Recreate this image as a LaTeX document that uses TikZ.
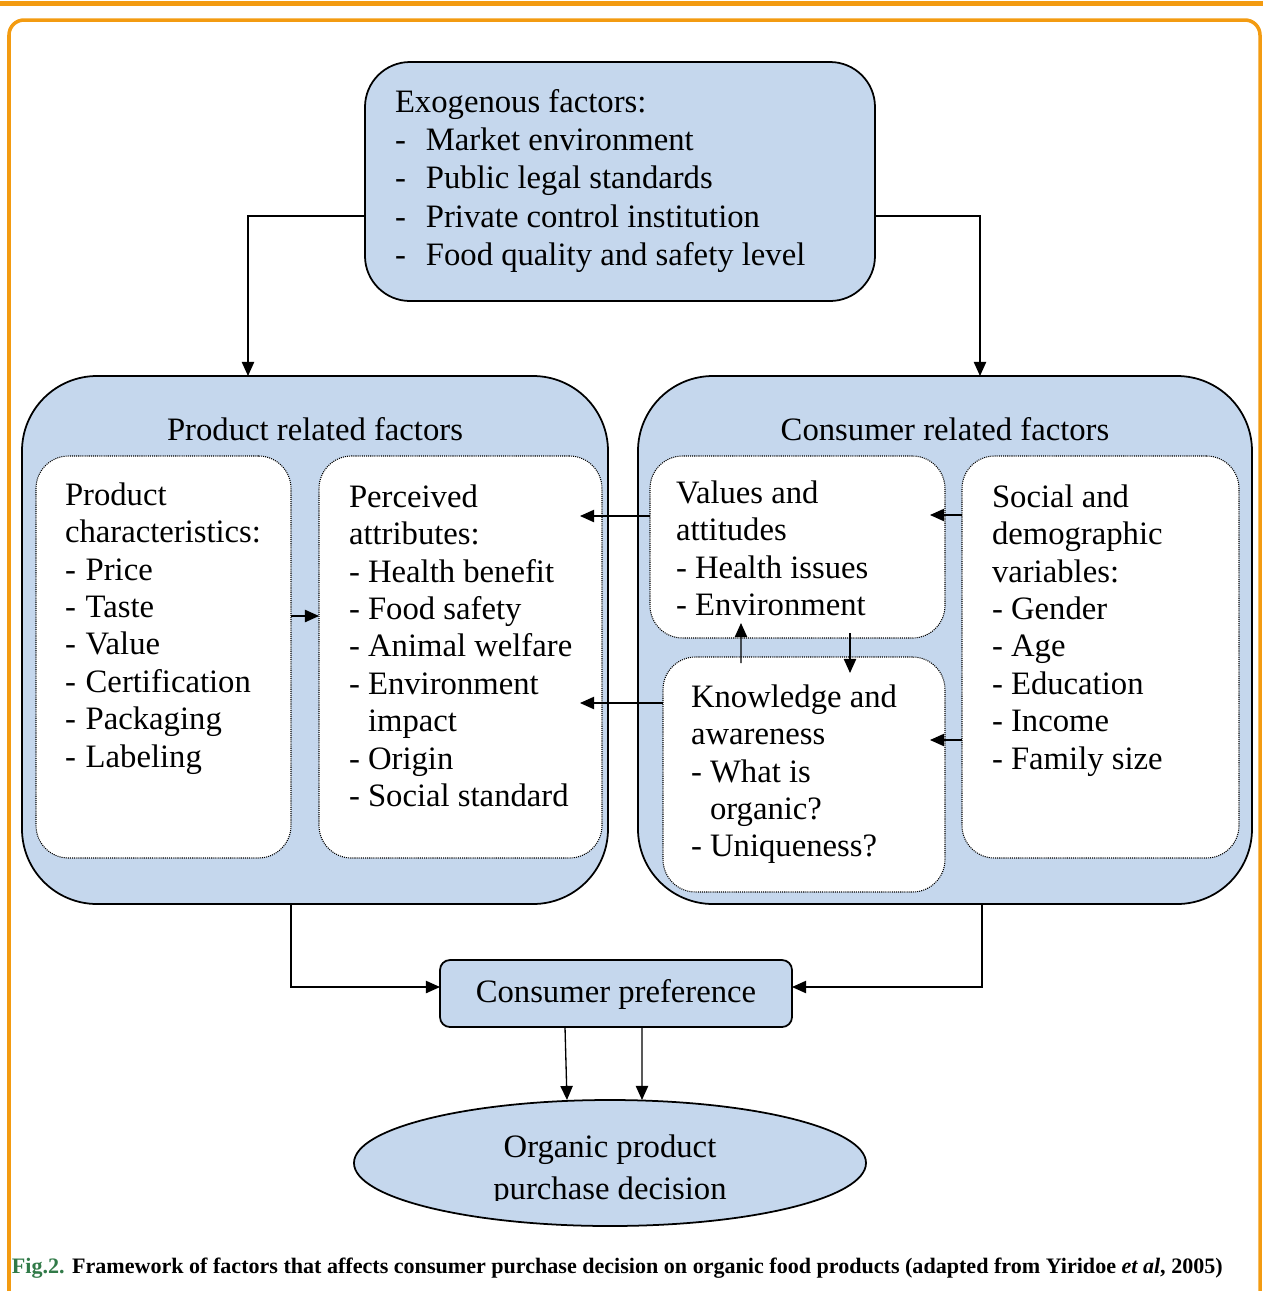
\documentclass[tikz,border=0pt]{standalone}
\usepackage{graphicx}
\usepackage{fontspec}
\setmainfont{Liberation Serif}
\usetikzlibrary{arrows.meta,calc,shapes.geometric}
\definecolor{frameorange}{RGB}{243,155,17}
\definecolor{boxblue}{RGB}{197,215,237}
\definecolor{figgreen}{RGB}{49,122,72}
\begin{document}
\begin{tikzpicture}[
  every node/.style={inner sep=0pt, outer sep=0pt},
  bigbox/.style={draw=black, line width=1pt, fill=boxblue, rounded corners=1.5cm},
  inbox/.style={draw=black, line width=0.6pt, dash pattern=on 0.6pt off 0.6pt, fill=white, rounded corners=0.65cm},
  txt/.style={anchor=north west, align=left, font=\fontsize{18.6pt}{21.3pt}\selectfont},
  ttl/.style={anchor=base, font=\fontsize{18.6pt}{21.3pt}\selectfont},
  conn/.style={line width=0.75pt, -{Triangle[length=8pt,width=7pt]}},
]
\useasboundingbox (0,0) rectangle (25.26,-25.82);
% page frame
\fill[frameorange] (0,-0.02) rectangle (25.26,-0.12);
\draw[frameorange, line width=2pt, rounded corners=0.3cm] (0.18,-25.95) -- (0.18,-0.40) -- (25.2,-0.40) -- (25.2,-25.95);

% boxes
\node[bigbox, rounded corners=0.9cm, minimum width=10.2cm, minimum height=4.78cm] (exo) at (12.4,-3.63) {};
\node[bigbox, minimum width=11.72cm, minimum height=10.56cm] (prod) at (6.3,-12.8) {};
\node[bigbox, minimum width=12.28cm, minimum height=10.56cm] (cons) at (18.9,-12.8) {};
\node[inbox, minimum width=5.1cm, minimum height=8.04cm] (pchar) at (3.27,-13.14) {};
\node[inbox, minimum width=5.66cm, minimum height=8.04cm] (perc) at (9.21,-13.14) {};
\node[inbox, minimum width=5.9cm, minimum height=3.64cm] (val) at (15.95,-10.94) {};
\node[inbox, minimum width=5.64cm, minimum height=4.7cm] (know) at (16.08,-15.49) {};
\node[inbox, minimum width=5.54cm, minimum height=8.04cm] (soc) at (22.01,-13.14) {};
\node[bigbox, rounded corners=0.2cm, minimum width=7.04cm, minimum height=1.34cm] (pref) at (12.32,-19.87) {};
\node[ellipse, draw=black, line width=1pt, fill=boxblue, minimum width=10.24cm, minimum height=2.52cm] (dec) at (12.2,-23.26) {};

% texts
\node[txt, font=\fontsize{18.6pt}{21.7pt}\selectfont] (exotxt) at (7.9,-1.72) {\strut Exogenous factors:\\
\makebox[17.6pt][l]{-}Market environment\\
\makebox[17.6pt][l]{-}Public legal standards\\
\makebox[17.6pt][l]{-}Private control institution\\
\makebox[17.6pt][l]{-}Food quality and safety level};
\node[ttl] (ptitle) at (6.3,-8.8) {Product related factors};
\node[ttl] (ctitle) at (18.9,-8.8) {Consumer related factors};
\node[txt] (pchartxt) at (1.3,-9.58) {\strut Product\\characteristics:\\-\hspace{0.3em}Price\\-\hspace{0.3em}Taste\\-\hspace{0.3em}Value\\-\hspace{0.3em}Certification\\-\hspace{0.3em}Packaging\\-\hspace{0.3em}Labeling};
\node[txt] (perctxt) at (6.98,-9.62) {\strut Perceived\\attributes:\\- Health benefit\\- Food safety\\- Animal welfare\\- Environment\\\hphantom{- }impact\\- Origin\\- Social standard};
\node[txt] (valtxt) at (13.52,-9.54) {\strut Values and\\attitudes\\- Health issues\\- Environment};
\node[txt] (knowtxt) at (13.82,-13.62) {\strut Knowledge and\\awareness\\- What is\\\hphantom{- }organic?\\- Uniqueness?};
\node[txt] (soctxt) at (19.84,-9.62) {\strut Social and\\demographic\\variables:\\- Gender\\- Age\\- Education\\- Income\\- Family size};
\node[ttl] (preftxt) at (12.32,-20.04) {Consumer preference};
\node[ttl] (dectxt1) at (12.2,-23.14) {Organic product};
\begin{scope}
\clip (7,-22) rectangle (17,-24.0);
\node[ttl] (dectxt2) at (12.2,-23.98) {purchase decision};
\end{scope}

% connectors
\draw[conn] ([yshift=-0.69cm]exo.west) -| ([xshift=-1.34cm]prod.north);
\draw[conn] ([yshift=-0.69cm]exo.east) -| ([xshift=0.7cm]cons.north);
\draw[conn] ([yshift=0.82cm]pchar.east) -- ([yshift=0.82cm]perc.west);
\coordinate (v1) at ([yshift=0.62cm]val.west);
\draw[conn] (v1) -- ([xshift=-0.44cm]perc.east |- v1);
\coordinate (k1) at ([yshift=1.43cm]know.west);
\draw[conn] (k1) -- ([xshift=-0.44cm]perc.east |- k1);
\coordinate (s1) at ([yshift=2.84cm]soc.west);
\draw[conn] (s1) -- ([xshift=-0.3cm]val.east |- s1);
\coordinate (s2) at ([yshift=-1.66cm]soc.west);
\draw[conn] (s2) -- ([xshift=-0.3cm]know.east |- s2);
\draw[conn] ([xshift=-1.26cm,yshift=-0.12cm]know.north) -- ([xshift=-1.13cm,yshift=0.30cm]val.south);
\draw[conn] ([xshift=1.05cm,yshift=0.10cm]val.south) -- ([xshift=0.92cm,yshift=-0.32cm]know.north);
\draw[conn] ([xshift=-0.48cm]prod.south) |- ([yshift=0.13cm]pref.west);
\draw[conn] ([xshift=0.74cm]cons.south) |- ([yshift=0.13cm]pref.east);
\draw[conn] ([xshift=-1.02cm]pref.south) -- ([xshift=-0.86cm]dec.north);
\draw[conn] ([xshift=0.52cm]pref.south) -- ([xshift=0.64cm]dec.north);

% caption
\node[anchor=base west] (cap) at (0.24,-25.46) {\resizebox{689pt}{!}{\fontsize{12.5pt}{14pt}\selectfont\bfseries\textcolor{figgreen}{Fig.2.} Framework of factors that affects consumer purchase decision on organic food products (adapted from Yiridoe \textit{et al}, 2005)}};
\end{tikzpicture}
\end{document}
